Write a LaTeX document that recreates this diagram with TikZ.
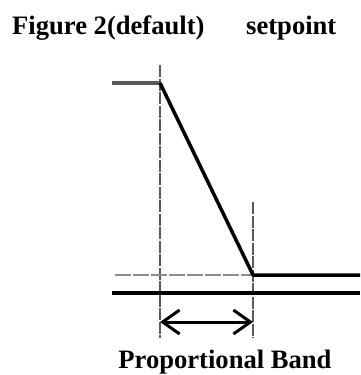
\documentclass[tikz,border=0pt]{standalone}
\usepackage{fontspec}
\setmainfont{Liberation Serif}
\usetikzlibrary{arrows.meta}
\begin{document}
\begin{tikzpicture}[x=1pt,y=-1pt,
  lbl/.style={font=\fontsize{26.6}{30}\selectfont\bfseries, inner sep=0pt, anchor=base west},
  guide/.style={draw=black!65, line width=1.8pt, dash pattern=on 12pt off 1.5pt},
  hguide/.style={draw=black!45, line width=2pt, dash pattern=on 16pt off 2pt},
  curve/.style={draw=black, line width=3.5pt},
  base/.style={draw=black, line width=4pt},
  gline/.style={draw=black!65, line width=3.2pt},
  dim/.style={draw=black, line width=3pt, {Straight Barb[length=17pt,width=24pt,line width=3pt]}-{Straight Barb[length=17pt,width=24pt,line width=3pt]}}]
\useasboundingbox (0,0) rectangle (360,375);
\node[lbl] (title) at (12,34) {Figure 2(default)};
\node[lbl] (sp) at (246,34) {setpoint};
\coordinate (tl) at (112,83);
\coordinate (knee1) at (160,83);
\coordinate (knee2) at (253,275);
\coordinate (endr) at (360,275);
\coordinate (v1top) at (160,65);
\coordinate (v1bot) at (160,338);
\coordinate (v2top) at (253,202);
\coordinate (v2bot) at (253,338);
\coordinate (hgl) at (115,275);
\coordinate (bl) at (112,293);
\coordinate (br) at (360,293);
\coordinate (al) at (160,322);
\coordinate (ar) at (253,322);
\draw[guide] (v1top) -- (v1bot);
\draw[guide] (v2top) -- (v2bot);
\draw[hguide] (hgl) -- (knee2);
\draw[gline] (tl) -- (knee1);
\draw[curve, line join=round] (knee1) -- (knee2) -- (endr);
\draw[base] (bl) -- (br);
\draw[dim] (al) -- (ar);
\node[lbl, anchor=base] (pb) at (225,368) {Proportional Band};
\end{tikzpicture}
\end{document}
